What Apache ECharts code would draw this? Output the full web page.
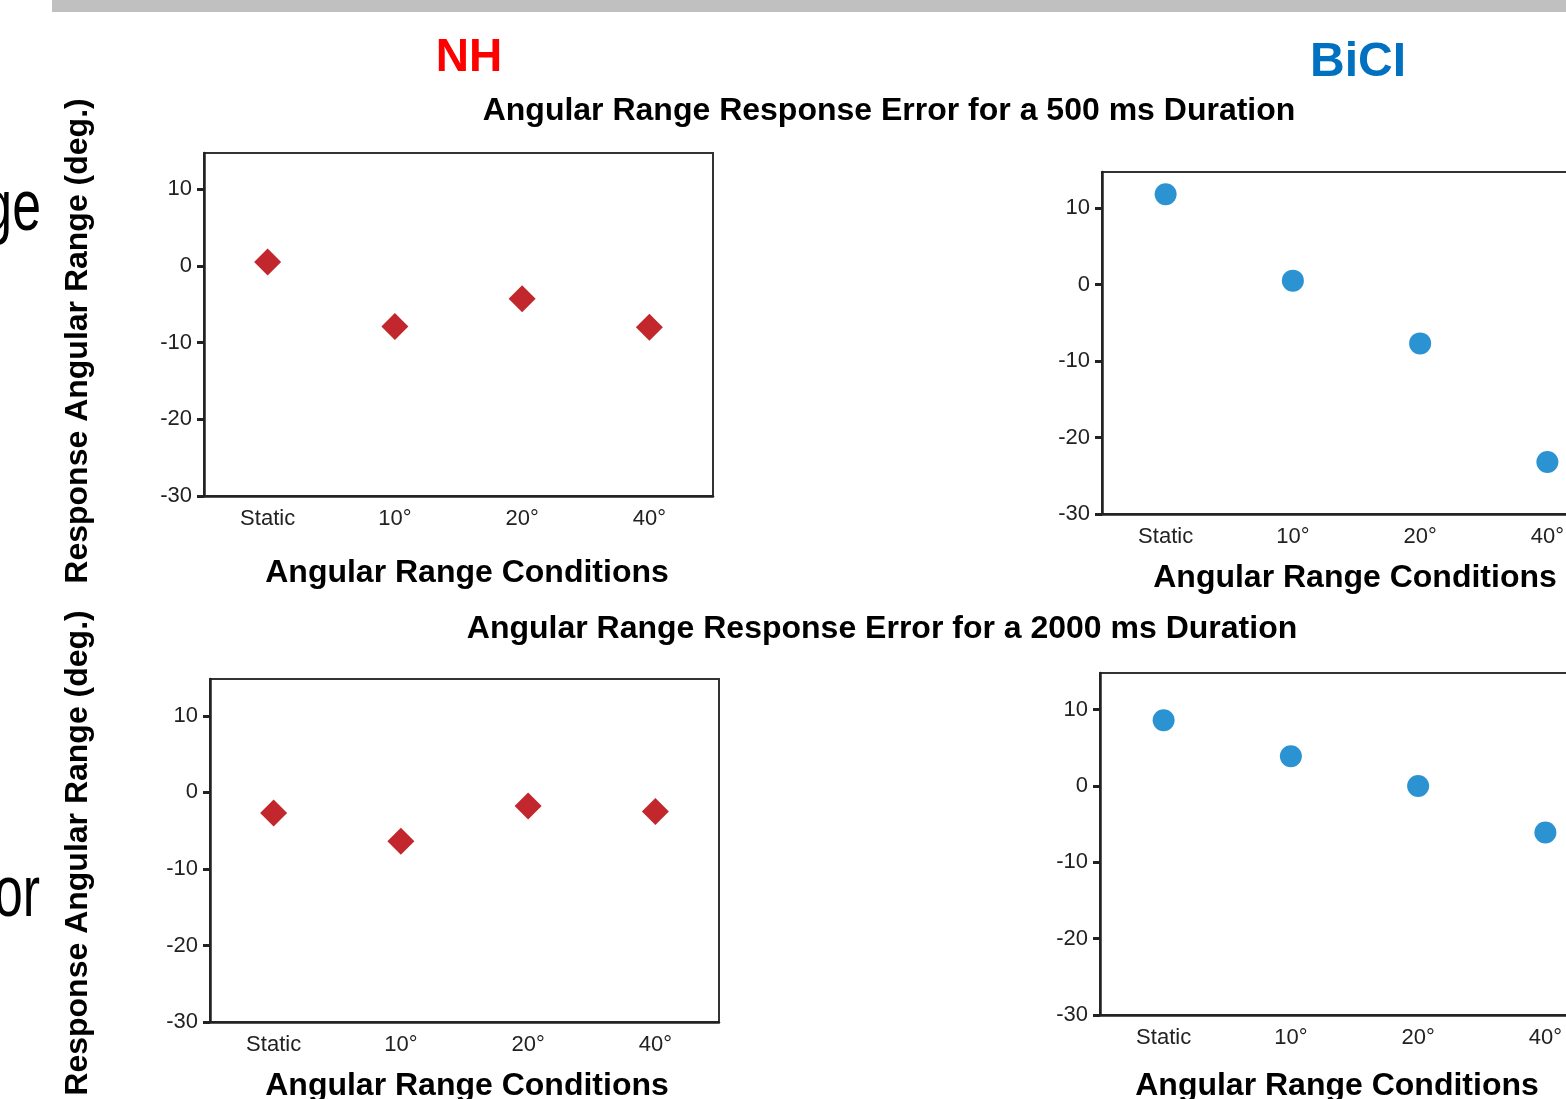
<!DOCTYPE html>
<html lang="en">
<head>
  <meta charset="UTF-8">
  <title>Angular Range Response Error</title>
  <script src="https://cdn.jsdelivr.net/npm/echarts@6"></script>
  <style>
    html, body { margin: 0; padding: 0; background: #fff; }
    #chart { width: 1566px; height: 1099px; }
  </style>
</head>
<body>
  <div id="chart"></div>
  <script>
    // data
    const categories = ['Static', '10°', '20°', '40°'];
    const nh500 = [0.5, -7.9, -4.3, -8.0];
    const bici500 = [11.8, 0.5, -7.7, -23.2];
    const nh2000 = [-2.7, -6.4, -1.8, -2.5];
    const bici2000 = [8.6, 3.9, 0.0, -6.1];
    const yTicks = [-30, -20, -10, 0, 10];

    const FONT = '"Liberation Sans", Arial, sans-serif';
    const RED = '#c1272d';
    const BLUE = '#2b93d2';

    let chart = echarts.init(document.getElementById('chart'));

    // one panel = grid + x axis + y axis (right ones run past the edge)
    const panels = [
      { left: 204, top: 153, height: 343, max: 14.7, data: nh500, symbol: 'diamond', size: 27, color: RED },
      { left: 1102, top: 172, height: 342, max: 14.7, data: bici500, symbol: 'circle', size: 22, color: BLUE },
      { left: 210, top: 679, height: 343, max: 14.8, data: nh2000, symbol: 'diamond', size: 27, color: RED },
      { left: 1100, top: 673, height: 342, max: 14.8, data: bici2000, symbol: 'circle', size: 22, color: BLUE }
    ];

    const grid = [], xAxis = [], yAxis = [], series = [];
    panels.forEach((p, i) => {
      grid.push({
        left: p.left, top: p.top, width: 509, height: p.height,
        containLabel: false, outerBoundsMode: 'none',
        show: true, borderColor: '#333', borderWidth: 2,
        backgroundColor: 'transparent'
      });
      xAxis.push({
        type: 'category', gridIndex: i, data: categories,
        boundaryGap: true,
        axisLine: { onZero: false, lineStyle: { color: '#222', width: 2.5 } },
        axisTick: { alignWithLabel: true, length: 7, lineStyle: { color: '#222', width: 3 } },
        axisLabel: { color: '#222', fontSize: 22, fontFamily: FONT, margin: 12 },
        splitLine: { show: false }
      });
      yAxis.push({
        type: 'value', gridIndex: i, min: -30, max: p.max, interval: 10,
        axisLine: { show: true, lineStyle: { color: '#222', width: 2.5 } },
        axisTick: { show: true, length: 7, customValues: yTicks, lineStyle: { color: '#222', width: 3 } },
        axisLabel: { color: '#222', fontSize: 22, fontFamily: FONT, margin: 12, customValues: yTicks },
        splitLine: { show: false }
      });
      series.push({
        type: 'scatter', xAxisIndex: i, yAxisIndex: i,
        data: p.data,
        symbol: p.symbol, symbolSize: p.size,
        itemStyle: { color: p.color, opacity: 1 },
        emphasis: { disabled: true }
      });
    });

    const txt = (x, y, text, size, color, extra) => Object.assign({
      type: 'text', x: x, y: y, silent: true,
      style: {
        text: text, fill: color, font: 'bold ' + size + 'px ' + FONT,
        align: 'center', verticalAlign: 'middle'
      }
    }, extra || {});

    const graphic = [
      { type: 'rect', shape: { x: 52, y: 0, width: 1514, height: 12 }, style: { fill: '#c0c0c0' }, silent: true },
      txt(469, 58, 'NH', 46, '#ff0000'),
      txt(1358, 63, 'BiCI', 48, '#0070c0'),
      txt(889, 111, 'Angular Range Response Error for a 500 ms Duration', 32, '#000'),
      txt(882, 629, 'Angular Range Response Error for a 2000 ms Duration', 32, '#000'),
      txt(78, 341, 'Response Angular Range (deg.)', 32, '#000', { rotation: Math.PI / 2 }),
      txt(78, 853, 'Response Angular Range (deg.)', 32, '#000', { rotation: Math.PI / 2 }),
      txt(467, 573, 'Angular Range Conditions', 32, '#000'),
      txt(1355, 578, 'Angular Range Conditions', 32, '#000'),
      txt(467, 1086, 'Angular Range Conditions', 32, '#000'),
      txt(1337, 1086, 'Angular Range Conditions', 32, '#000'),
      // cut-off slide text on the left edge
      { type: 'text', x: 41, y: 246, scaleX: 0.72, silent: true,
        style: { text: 'ge', fill: '#000', font: '72px ' + FONT, align: 'right', verticalAlign: 'bottom' } },
      { type: 'text', x: 40, y: 932, scaleX: 0.72, silent: true,
        style: { text: 'or', fill: '#000', font: '72px ' + FONT, align: 'right', verticalAlign: 'bottom' } }
    ];

    chart.setOption({
      animation: false,
      backgroundColor: '#fff',
      grid: grid,
      xAxis: xAxis,
      yAxis: yAxis,
      series: series,
      graphic: { elements: graphic }
    });
  </script>
</body>
</html>
